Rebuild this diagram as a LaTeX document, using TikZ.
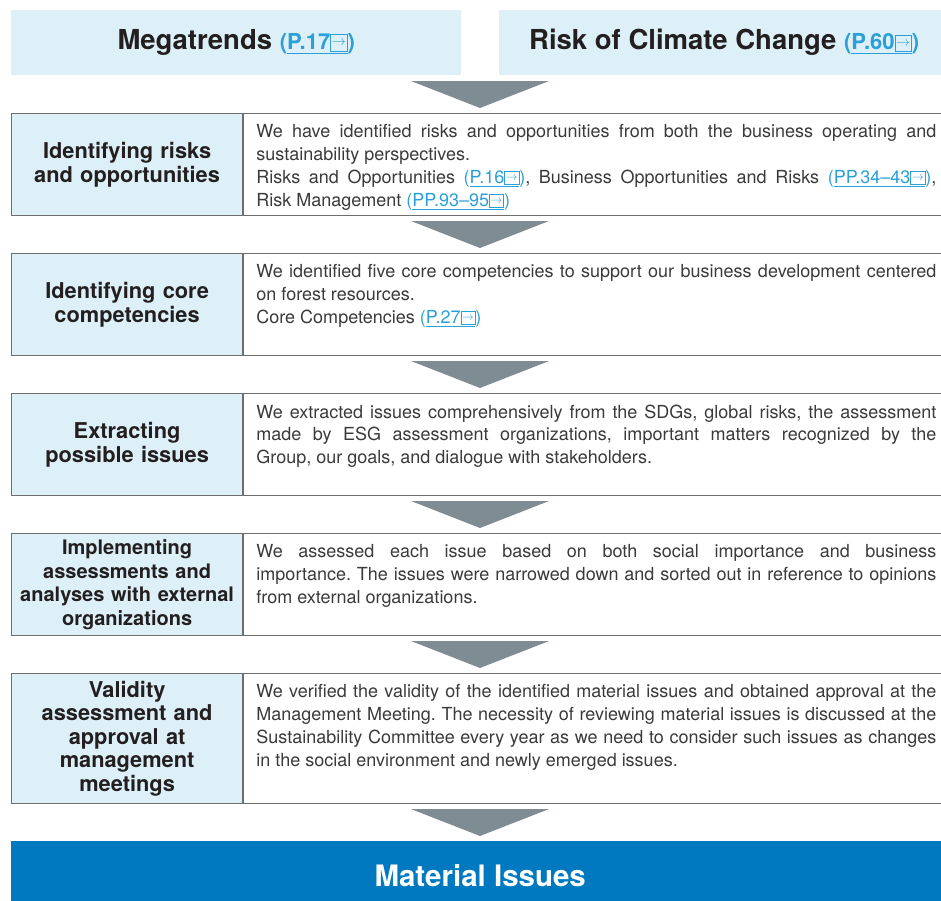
\documentclass[tikz,border=0pt]{standalone}
\usepackage{fontspec}
\setmainfont{TeX Gyre Heros}
\definecolor{cellblue}{HTML}{DDF0F8}
\definecolor{linkblue}{HTML}{2A9FD8}
\definecolor{framegray}{HTML}{6E6E6E}
\definecolor{arrowgray}{HTML}{7F8C94}
\definecolor{issueblue}{HTML}{0079C1}
\definecolor{bodygray}{HTML}{3A3A3A}
\definecolor{labelblack}{HTML}{231F20}

\newcommand\linkicon{{\fboxrule=0.6pt\fboxsep=1pt\fbox{\raisebox{0.17em}[0.62em][0pt]{\scalebox{0.68}{$\rightarrow$}}}}}
\newcommand\seepage[1]{{\color{linkblue}(\underline{#1\linkicon})}}
\newcommand\headlink[1]{{\fontsize{22}{24}\selectfont\seepage{#1}}}
\newcommand\flowarrow[1]{\fill[arrowgray] (411,#1) -- (549,#1) -- (480,#1+27) -- cycle;}
\frenchspacing

\begin{document}
\begin{tikzpicture}[x=1pt,y=-1pt,
  header/.style={fill=cellblue,anchor=north west,inner sep=0pt,minimum height=65pt,
    font=\bfseries\fontsize{27.5}{30}\selectfont,text=labelblack},
  cell/.style={draw=framegray,line width=1.2pt,anchor=north west,inner sep=0pt},
  labelcell/.style={cell,fill=cellblue,minimum width=231pt,text width=226pt,align=center,
    font=\bfseries\fontsize{21.8}{24}\selectfont,text=labelblack},
  textcell/.style={cell,minimum width=720pt},
  bodytext/.style={anchor=north west,inner sep=0pt,text width=680pt,align=justify,
    font=\fontsize{18}{22.8}\selectfont,text=bodygray}]
\useasboundingbox (0,0) rectangle (941,900);
\clip (0,0) rectangle (941,900);

\node[header,minimum width=450pt] (mega) at (11,10) {Megatrends \headlink{P.17}};
\node[header,minimum width=450pt] (climate) at (499,10) {Risk of Climate Change \headlink{P.60}};

\flowarrow{81}
\node[labelcell,minimum height=102pt] (s1) at (11,113) {Identifying risks\\and opportunities};
\node[textcell,minimum height=102pt] (d1) at (s1.north east) {};
\node[bodytext] (t1) at ([xshift=13pt,yshift=-11.5pt]d1.north west) {We have identified risks and opportunities from both the business operating and\linebreak sustainability perspectives.\\Risks and Opportunities \seepage{P.16}, Business Opportunities and Risks \seepage{PP.34\textendash43},\linebreak Risk Management \seepage{PP.93\textendash95}};

\flowarrow{221}
\node[labelcell,minimum height=102pt] (s2) at (11,253) {Identifying core\\competencies};
\node[textcell,minimum height=102pt] (d2) at (s2.north east) {};
\node[bodytext] (t2) at ([xshift=13pt,yshift=-11.5pt]d2.north west) {We identified five core competencies to support our business development centered\linebreak on forest resources.\\Core Competencies \seepage{P.27}};

\flowarrow{361}
\node[labelcell,minimum height=102pt] (s3) at (11,393) {Extracting\\possible issues};
\node[textcell,minimum height=102pt] (d3) at (s3.north east) {};
\node[bodytext] (t3) at ([xshift=13pt,yshift=-11.5pt]d3.north west) {We extracted issues comprehensively from the SDGs, global risks, the assessment\linebreak made by ESG assessment organizations, important matters recognized by the\linebreak Group, our goals, and dialogue with stakeholders.};

\flowarrow{501}
\node[labelcell,minimum height=102pt,font=\bfseries\fontsize{20}{23.5}\selectfont] (s4) at (11,533) {Implementing\\assessments and\\analyses with external\\organizations};
\node[textcell,minimum height=102pt] (d4) at (s4.north east) {};
\node[bodytext] (t4) at ([xshift=13pt,yshift=-11.5pt]d4.north west) {We assessed each issue based on both social importance and business\linebreak importance. The issues were narrowed down and sorted out in reference to opinions\linebreak from external organizations.};

\flowarrow{641}
\node[labelcell,minimum height=130pt,font=\bfseries\fontsize{21.8}{23.5}\selectfont] (s5) at (11,673) {Validity\\assessment and\\approval at\\management\\meetings};
\node[textcell,minimum height=130pt] (d5) at (s5.north east) {};
\node[bodytext] (t5) at ([xshift=13pt,yshift=-11.5pt]d5.north west) {We verified the validity of the identified material issues and obtained approval at the\linebreak Management Meeting. The necessity of reviewing material issues is discussed at the\linebreak Sustainability Committee every year as we need to consider such issues as changes\linebreak in the social environment and newly emerged issues.};

\flowarrow{809}
\node[fill=issueblue,anchor=north west,inner sep=0pt,minimum width=938pt,minimum height=68pt,
  text=white,font=\bfseries\fontsize{29.5}{32}\selectfont] (issues) at (11,841) {Material Issues};
\end{tikzpicture}
\end{document}
